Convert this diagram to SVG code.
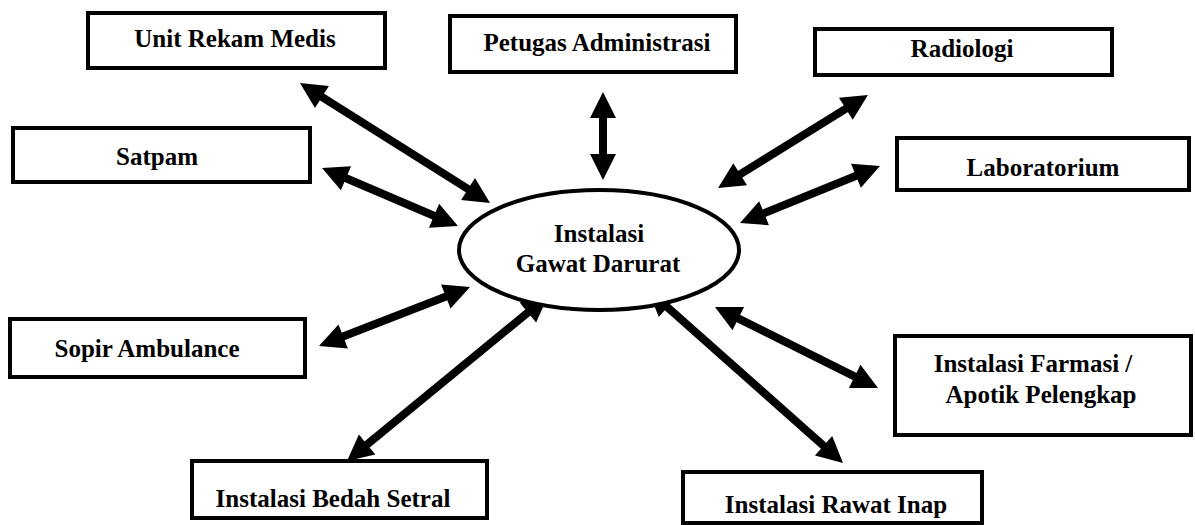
<svg xmlns="http://www.w3.org/2000/svg" width="1195" height="525" viewBox="0 0 1195 525">
<style>
.box{fill:#fff;stroke:#000;stroke-width:4}
.t{font-family:"Liberation Serif","Times New Roman",serif;font-weight:bold;font-size:25px;fill:#000;text-anchor:middle}
.c{stroke:#000;stroke-width:8;fill:none;marker-start:url(#ah);marker-end:url(#ah)}
</style>
<defs>
<marker id="ah" markerUnits="userSpaceOnUse" markerWidth="30" markerHeight="30" viewBox="0 -15 28 30" refX="3" refY="0" orient="auto-start-reverse">
<path d="M0,-13 L26,0 L0,13 z" fill="#000"/>
</marker>
</defs>
<rect width="1195" height="525" fill="#fff"/>
<g id="connectors">
<line class="c" x1="319.4" y1="95.3" x2="470.6" y2="190.7"/>
<line class="c" x1="603" y1="115" x2="603" y2="157"/>
<line class="c" x1="848.4" y1="107.1" x2="737.6" y2="175.9"/>
<line class="c" x1="858.7" y1="174.7" x2="761.3" y2="214.3"/>
<line class="c" x1="343.2" y1="177" x2="436.8" y2="217"/>
<line class="c" x1="340.4" y1="337.6" x2="448.6" y2="295.4"/>
<line class="c" x1="364.8" y1="446.4" x2="530.2" y2="310.6"/>
<line class="c" x1="735.6" y1="317.2" x2="857.4" y2="377.8"/>
<line class="c" x1="665.2" y1="305.3" x2="825.8" y2="447.7"/>
</g>
<g id="igd">
<ellipse cx="599" cy="250" rx="140" ry="60" fill="#fff" stroke="#000" stroke-width="4"/>
<text class="t" x="599" y="242">Instalasi</text>
<text class="t" x="598" y="272">Gawat Darurat</text>
</g>
<g id="rekam-medis">
<rect class="box" x="88" y="13" width="297" height="55"/>
<text class="t" x="235" y="47">Unit Rekam Medis</text>
</g>
<g id="petugas">
<rect class="box" x="450" y="16" width="286" height="56"/>
<text class="t" x="597" y="51">Petugas Administrasi</text>
</g>
<g id="radiologi">
<rect class="box" x="815" y="29" width="297" height="46"/>
<text class="t" x="962" y="57">Radiologi</text>
</g>
<g id="laboratorium">
<rect class="box" x="897" y="138" width="292" height="52"/>
<text class="t" x="1043" y="176">Laboratorium</text>
</g>
<g id="satpam">
<rect class="box" x="13" y="128" width="297" height="54"/>
<text class="t" x="157" y="165">Satpam</text>
</g>
<g id="sopir">
<rect class="box" x="10" y="319" width="295" height="58"/>
<text class="t" x="147" y="357">Sopir Ambulance</text>
</g>
<g id="bedah">
<rect class="box" x="192" y="461" width="295" height="57"/>
<text class="t" x="333" y="507">Instalasi Bedah Setral</text>
</g>
<g id="farmasi">
<rect class="box" x="895" y="336" width="296" height="99"/>
<text class="t" x="1033" y="372">Instalasi Farmasi /</text>
<text class="t" x="1041" y="403">Apotik Pelengkap</text>
</g>
<g id="rawat-inap">
<rect class="box" x="683" y="472" width="299" height="51"/>
<text class="t" x="836" y="513">Instalasi Rawat Inap</text>
</g>
</svg>
